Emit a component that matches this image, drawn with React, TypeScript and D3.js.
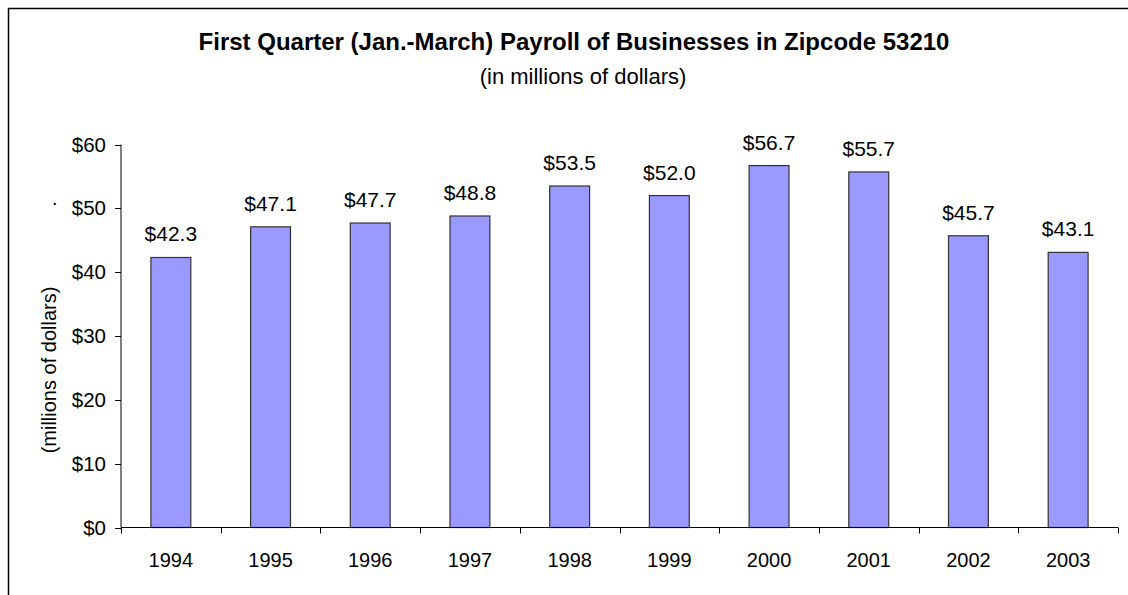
import React from 'react';
import * as d3 from 'd3';

const years = ['1994', '1995', '1996', '1997', '1998', '1999', '2000', '2001', '2002', '2003'];
const payroll = [42.3, 47.1, 47.7, 48.8, 53.5, 52.0, 56.7, 55.7, 45.7, 43.1];
const yTicks = [0, 10, 20, 30, 40, 50, 60];

const W = 1128, H = 595;
const font = "'Liberation Sans', Arial, sans-serif";

const App = () => {
    const margin = { top: 144.5, left: 121, right: 1118, bottom: 527.5 };

    const x = d3.scaleBand<string>()
        .domain(years)
        .range([margin.left, margin.right])
        .paddingInner(0.6)
        .paddingOuter(0.3);

    const y = d3.scaleLinear()
        .domain([0, 60])
        .range([margin.bottom, margin.top]);

    const step = x.step();
    const bounds = d3.range(years.length + 1).map(i => margin.left + i * step);

    return (
        <svg width={W} height={H} style={{ position: 'absolute', left: 0, top: 0 }} fontFamily={font}>
            <rect x={8.5} y={8.5} width={W + 20} height={H + 20} fill="white" stroke="black" strokeWidth={1.5} />

            <text x={574} y={50} textAnchor="middle" fontSize={24} fontWeight="bold">
                First Quarter (Jan.-March) Payroll of Businesses in Zipcode 53210
            </text>
            <text x={583} y={84} textAnchor="middle" fontSize={22}>(in millions of dollars)</text>

            <text transform="translate(56,370) rotate(-90)" textAnchor="middle" fontSize={20}>(millions of dollars)</text>
            <text x={52} y={205} fontSize={20}>.</text>

            {payroll.map((v, i) => (
                <rect key={years[i]}
                    x={x(years[i])}
                    y={y(v)}
                    width={x.bandwidth()}
                    height={y(0) - y(v)}
                    fill="#9999FF"
                    stroke="#333"
                    strokeWidth={1.2} />
            ))}
            {payroll.map((v, i) => (
                <text key={'l' + years[i]}
                    x={x(years[i])! + x.bandwidth() / 2}
                    y={y(v) - 16}
                    textAnchor="middle"
                    fontSize={21}>
                    {'$' + v.toFixed(1)}
                </text>
            ))}

            {/* y axis */}
            <line x1={margin.left} x2={margin.left} y1={margin.top} y2={margin.bottom} stroke="black" />
            {yTicks.map(t => (
                <g key={t}>
                    <line x1={margin.left - 6} x2={margin.left} y1={Math.round(y(t)) + 0.5} y2={Math.round(y(t)) + 0.5} stroke="black" />
                    <text x={margin.left - 15} y={y(t) + 7} textAnchor="end" fontSize={20.5}>{'$' + t}</text>
                </g>
            ))}

            {/* x axis */}
            <line x1={margin.left} x2={margin.right} y1={margin.bottom} y2={margin.bottom} stroke="black" />
            {bounds.map((b, i) => (
                <line key={i} x1={Math.round(b) + 0.5} x2={Math.round(b) + 0.5} y1={margin.bottom} y2={margin.bottom + 6} stroke="black" />
            ))}
            {years.map(yr => (
                <text key={yr} x={x(yr)! + x.bandwidth() / 2} y={567} textAnchor="middle" fontSize={20}>{yr}</text>
            ))}
        </svg>
    );
};

export default App;
